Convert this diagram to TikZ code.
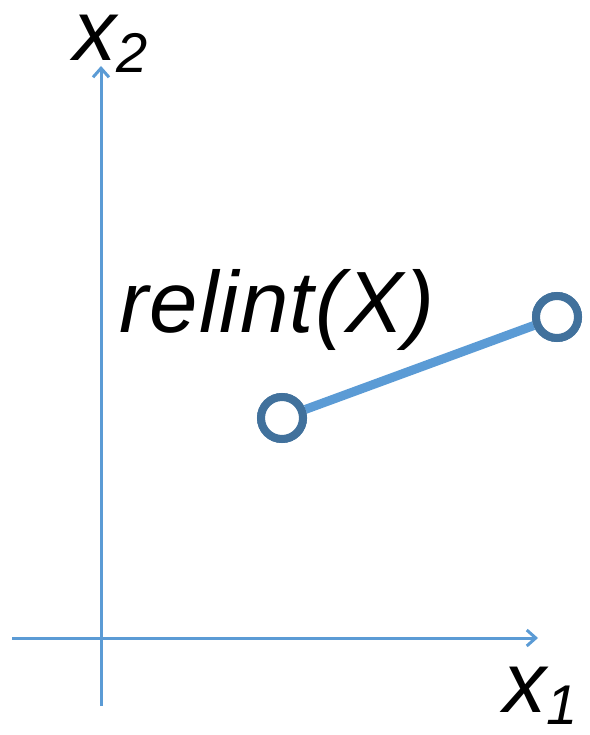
\documentclass[tikz,border=0pt]{standalone}
\usepackage{fontspec}
\setmainfont{Liberation Sans}
\newfontfamily\spaced[LetterSpace=1.5]{Liberation Sans}
\usetikzlibrary{arrows.meta}
\definecolor{axisblue}{HTML}{5B9BD5}
\definecolor{ringblue}{HTML}{41719C}
\tikzset{
  axisline/.style={draw=axisblue, line width=3pt, -{Straight Barb[length=9pt,width=16pt,line width=3pt]}},
  ring/.style={circle, draw=ringblue, line width=8pt, fill=white, minimum size=42pt, inner sep=0pt},
  lbl/.style={inner sep=0pt, anchor=base west, font=\itshape}
}
\begin{document}
\begin{tikzpicture}[x=1pt,y=-1pt]
\useasboundingbox (0,0) rectangle (589,735);
\coordinate (vs) at (101,706);
\coordinate (ve) at (101,66);
\coordinate (hs) at (12,638);
\coordinate (he) at (538,638);
\draw[axisline] (vs) -- (ve);
\draw[axisline] (hs) -- (he);
\node[ring] (p) at (282,418) {};
\node[ring] (q) at (557,317) {};
\draw[axisblue, line width=9pt] (p) -- (q);
\node[ring] at (p) {};
\node[ring] at (q) {};
\node[lbl, font=\itshape\fontsize{86}{86}\selectfont] (x2) at (73,61) {x\raisebox{-12pt}{\fontsize{56}{56}\selectfont 2}};
\node[lbl, font=\itshape\fontsize{86}{86}\selectfont] (x1) at (503,712) {x\raisebox{-12pt}{\fontsize{56}{56}\selectfont 1}};
\node[lbl, font=\spaced\itshape\fontsize{87}{87}\selectfont] (rl) at (119,332) {relint(X)};
\end{tikzpicture}
\end{document}
